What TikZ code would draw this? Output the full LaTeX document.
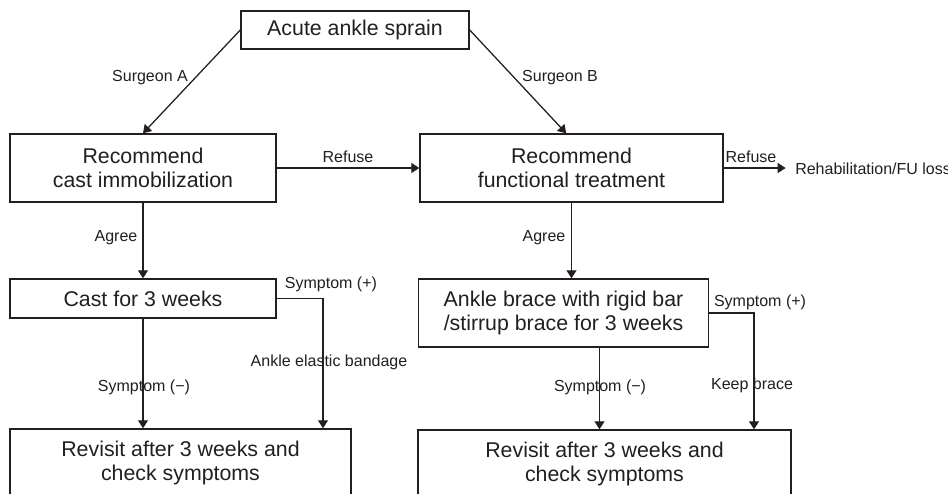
\documentclass[tikz,border=0pt]{standalone}
\usepackage{fontspec}
\setmainfont{Liberation Sans}
\usetikzlibrary{arrows.meta}
\definecolor{ink}{RGB}{35,31,32}
\begin{document}
\begin{tikzpicture}[x=0.75pt,y=-0.75pt,
  box/.style={draw=ink,line width=1.1pt,rectangle,inner sep=0pt,align=center,
    font=\fontsize{16}{18}\selectfont,text=ink},
  lbl/.style={inner sep=0pt,font=\fontsize{12}{14}\selectfont,text=ink},
  arr/.style={draw=ink,line width=0.95pt,-{Triangle[length=6pt,width=7.5pt]}},
  ln/.style={draw=ink,line width=0.95pt}]
\clip (0,0) rectangle (948,493);
\fill[white] (0,0) rectangle (948,493);
% boxes
\node[box,minimum width=171pt,minimum height=28.5pt] (top) at (355,30) {Acute ankle sprain};
\node[box,minimum width=199.5pt,minimum height=51pt] (recA) at (143,168) {Recommend\\cast immobilization};
\node[box,minimum width=227.25pt,minimum height=51pt] (recB) at (571.5,168) {Recommend\\functional treatment};
\node[box,minimum width=199.5pt,minimum height=29.25pt] (cast) at (143,298.5) {Cast for 3 weeks};
\node[box,minimum width=217.5pt,minimum height=51pt] (brace) at (563.5,313) {Ankle brace with rigid bar\\/stirrup brace for 3 weeks};
\node[box,minimum width=255.75pt,minimum height=51pt] (revA) at (180.5,463) {Revisit after 3 weeks and\\check symptoms};
\node[box,minimum width=279.75pt,minimum height=51pt] (revB) at (604.5,464) {Revisit after 3 weeks and\\check symptoms};
\node[anchor=west,inner sep=0pt,font=\fontsize{12}{14}\selectfont,text=ink] (fu) at (795,169) {Rehabilitation/FU loss};
% helper coordinates
\coordinate (cA) at (323,0);
\coordinate (cB) at (754,0);
% connectors
\draw[arr] (top.west) -- (recA.north);
\draw[arr] (top.east) -- ([xshift=-4pt]recB.north);
\draw[arr] (recA.east) -- (recB.west);
\draw[arr,shorten >=7pt] (recB.east) -- (recB.east -| fu.west);
\draw[arr] (recA.south) -- (cast.north);
\draw[arr] (recB.south) -- (recB.south |- brace.north);
\draw[arr] (cast.south) -- (cast.south |- revA.north);
\draw[arr] (cast.east) -| (cA |- revA.north);
\draw[arr] ([xshift=27pt]brace.south) -- ([xshift=27pt]brace.south |- revB.north);
\draw[arr] (brace.east) -| (cB |- revB.north);
% labels
\node[lbl] (lSA) at (150,78) {Surgeon A};
\node[lbl] (lSB) at (560,78) {Surgeon B};
\node[lbl] (lR1) at (348,157) {Refuse};
\node[lbl] (lR2) at (751,157) {Refuse};
\node[lbl] (lAg1) at (116,238) {Agree};
\node[lbl] (lAg2) at (544,238) {Agree};
\node[lbl] (lSp1) at (331,284) {Symptom (+)};
\node[lbl] (lAeb) at (329,362) {Ankle elastic bandage};
\node[lbl] (lSm1) at (144,387) {Symptom (−)};
\node[lbl] (lSm2) at (600,387) {Symptom (−)};
\node[lbl] (lSp2) at (760,302) {Symptom (+)};
\node[lbl] (lKb) at (752,385) {Keep brace};
\end{tikzpicture}
\end{document}
